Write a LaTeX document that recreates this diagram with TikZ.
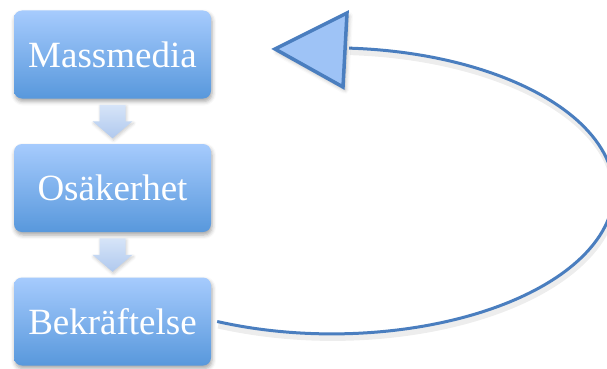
\documentclass[tikz,border=0pt]{standalone}
\usepackage{fontspec}
\setmainfont{Liberation Serif}
\usetikzlibrary{shadows.blur,calc}
\definecolor{boxtop}{HTML}{A6CBFD}
\definecolor{boxbot}{HTML}{5898DC}
\definecolor{arrtop}{HTML}{D6E4F8}
\definecolor{arrbot}{HTML}{B0C9EE}
\definecolor{lineblue}{HTML}{4A7EBF}
\definecolor{trifill}{HTML}{9EC3F6}
\tikzset{
  stage/.style={rectangle, rounded corners=8pt, minimum width=197pt,
    minimum height=88pt, inner sep=0pt, top color=boxtop, bottom color=boxbot,
    text=white, font=\fontsize{37}{40}\selectfont,
    blur shadow={shadow xshift=1pt, shadow yshift=-3pt, shadow blur radius=4pt, shadow opacity=35}},
  downarrow/.style={top color=arrtop, bottom color=arrbot,
    blur shadow={shadow xshift=1pt, shadow yshift=-2pt, shadow blur radius=3pt, shadow opacity=20}},
  loopline/.style={draw=lineblue, line width=3pt},
  loopshadow/.style={draw=black, line width=6pt, opacity=0.07},
  bigtip/.style={draw=lineblue, line width=3.5pt, fill=trifill, line join=miter,
    blur shadow={shadow xshift=2pt, shadow yshift=-3pt, shadow blur radius=4pt, shadow opacity=30}}
}
\begin{document}
\begin{tikzpicture}[x=1pt,y=1pt]
\useasboundingbox (0,0) rectangle (607,-369);
% stage boxes
\node[stage] (mm) at (112.5,-54.5) {Massmedia};
\node[stage] (os) at (112.5,-188) {Osäkerhet};
\node[stage] (bk) at (112.5,-321.5) {Bekräftelse};
% down arrows between boxes
\path (mm.south) -- (os.north) coordinate[midway] (g1);
\path (os.south) -- (bk.north) coordinate[midway] (g2);
\foreach \g in {g1,g2}{
  \path[downarrow] ($(\g)+(-13,16.5)$) -- ($(\g)+(13,16.5)$) -- ($(\g)+(13,0)$)
    -- ($(\g)+(20,0)$) -- ($(\g)+(0,-17)$) -- ($(\g)+(-20,0)$) -- ($(\g)+(-13,0)$) -- cycle;
}
% loop back connector
\coordinate (bkout) at ($(bk.east)+(6,0)$);
\path[loopshadow] ($(bkout)+(1,-4)$) arc[start angle=-114, end angle=86.5, x radius=282, y radius=143];
\path[loopline] (bkout) arc[start angle=-114, end angle=86.5, x radius=282, y radius=143] coordinate (tb);
% big arrow head
\path[bigtip] (275,-49) coordinate (tip) -- (347,-13) -- (343,-87) -- cycle;
\end{tikzpicture}
\end{document}
